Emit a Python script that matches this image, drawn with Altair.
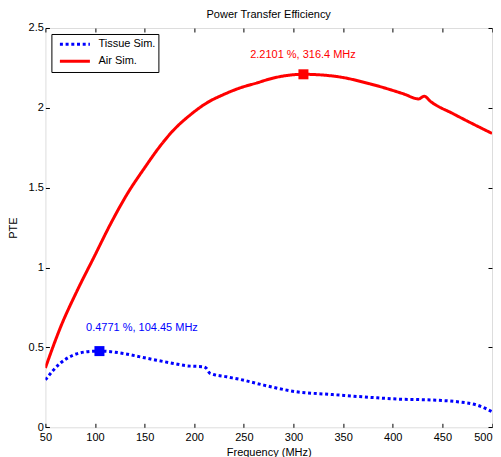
import altair as alt
import pandas as pd

# ---- data ----
series_names = ["Tissue Sim.", "Air Sim."]
series_colors = ["#0000ff", "#ff0000"]

air_freq = [50, 65.4, 82.2, 99, 115.8, 132.6, 150, 165.5, 179, 195.8, 212.6, 229.4,
            246.2, 263, 279.8, 310, 343.7, 377.3, 410.9, 426.1, 431.8, 437.9, 461.1, 500]
air_pte = [0.372, 0.629, 0.858, 1.066, 1.275, 1.4625, 1.625, 1.76, 1.86, 1.955, 2.031,
           2.083, 2.125, 2.156, 2.187, 2.2101, 2.196, 2.15, 2.0875, 2.056, 2.073, 2.041,
           1.9625, 1.84]

tissue_freq = [50, 64.7, 78, 91, 104.45, 128.5, 145.4, 162, 179, 192.4, 209, 212, 216,
               232.7, 246, 270, 303, 337, 377, 404, 438, 465, 485, 500]
tissue_pte = [0.297, 0.40, 0.452, 0.4725, 0.4771, 0.4625, 0.441, 0.42, 0.40, 0.385, 0.379,
              0.37, 0.3375, 0.316, 0.30, 0.264, 0.2225, 0.206, 0.1875, 0.177, 0.171,
              0.16, 0.139, 0.098]

peak_series = ["Tissue Sim.", "Air Sim."]
peak_freq = [104.45, 310]
peak_pte = [0.4771, 2.2101]
peak_text = ["0.4771 %, 104.45 MHz", "2.2101 %, 316.4 MHz"]
text_freq = [91, 256.3]
text_pte = [0.619, 2.333]

x_ticks = [50, 100, 150, 200, 250, 300, 350, 400, 450, 500]
y_ticks = [0, 0.5, 1, 1.5, 2, 2.5]

chart_title = "Power Transfer Efficiency"

FONT = "Liberation Sans"
W, H = 446.6, 399.3

lines_df = pd.concat([
    pd.DataFrame({"freq": tissue_freq, "pte": tissue_pte, "series": series_names[0]}),
    pd.DataFrame({"freq": air_freq, "pte": air_pte, "series": series_names[1]}),
], ignore_index=True)
lines_df["order"] = range(len(lines_df))

peaks_df = pd.DataFrame({"series": peak_series, "freq": peak_freq, "pte": peak_pte,
                         "label": peak_text, "tx": text_freq, "ty": text_pte})

xs = alt.Scale(domain=[50, 500], nice=False, zero=False)
ys = alt.Scale(domain=[0, 2.5], nice=False, zero=False)
color_scale = alt.Scale(domain=series_names, range=series_colors)
dash_scale = alt.Scale(domain=series_names, range=[[3, 2.7], [1, 0]])

TS = 4
axis_common = dict(domain=False, ticks=True, tickSize=TS, offset=-TS, grid=False,
                   tickColor="black", tickWidth=1, labelFont=FONT, labelFontSize=11,
                   labelColor="black", titleFont=FONT, titleFontSize=11,
                   titleFontWeight="normal", titleColor="black")

bottom_axis = alt.Axis(orient="bottom", values=x_ticks, labelPadding=4,
                       labelAlign={"condition": {"test": "datum.value >= 500",
                                                 "value": "right"},
                                   "value": "center"},
                       title="Frequency (MHz)", titleY=32, titleBaseline="alphabetic",
                       **axis_common)
left_axis = alt.Axis(orient="left", values=y_ticks, format="~g", labelPadding=2,
                     title="PTE", titleX=-36, titleBaseline="middle", **axis_common)
top_axis = alt.Axis(orient="top", values=x_ticks, labels=False, title=None, **axis_common)
right_axis = alt.Axis(orient="right", values=y_ticks, labels=False, title=None, **axis_common)

legend = alt.Legend(orient="top-left", offset=6, padding=2, strokeColor="black",
                    fillColor="white", symbolType="stroke", symbolSize=900,
                    symbolStrokeWidth=3, clipHeight=16.7, labelFont=FONT,
                    labelFontSize=11, labelColor="black", symbolOffset=5, labelOffset=7,
                    title=None, rowPadding=0)

lines = alt.Chart(lines_df).mark_line(strokeWidth=3, interpolate="monotone", clip=True).encode(
    x=alt.X("freq:Q", scale=xs, axis=bottom_axis),
    y=alt.Y("pte:Q", scale=ys, axis=left_axis),
    color=alt.Color("series:N", scale=color_scale, legend=legend, sort=series_names),
    strokeDash=alt.StrokeDash("series:N", scale=dash_scale, legend=legend, sort=series_names),
    detail="series:N",
    order="order:Q",
)

markers = alt.Chart(peaks_df).mark_square(size=100, opacity=1, filled=True).encode(
    x=alt.X("freq:Q", scale=xs, axis=None),
    y=alt.Y("pte:Q", scale=ys, axis=None),
    color=alt.Color("series:N", scale=color_scale, legend=None),
)

texts = alt.Chart(peaks_df).mark_text(align="left", baseline="middle", font=FONT,
                                      fontSize=11).encode(
    x=alt.X("tx:Q", scale=xs, axis=None),
    y=alt.Y("ty:Q", scale=ys, axis=None),
    text="label:N",
    color=alt.Color("series:N", scale=color_scale, legend=None),
)

title_mark = alt.Chart(pd.DataFrame({"t": [chart_title]})).mark_text(
    align="center", baseline="middle", font=FONT, fontSize=11, color="black"
).encode(x=alt.value(W / 2), y=alt.value(-13), text="t:N")

frame_axes = alt.Chart(lines_df).mark_point(opacity=0).encode(
    x=alt.X("freq:Q", scale=xs, axis=top_axis),
    y=alt.Y("pte:Q", scale=ys, axis=right_axis),
)

chart = alt.layer(lines, markers, texts, title_mark, frame_axes).resolve_axis(
    x="independent", y="independent"
).properties(
    width=W,
    height=H,
    autosize=alt.AutoSizeParams(type="none"),
    padding={"left": 37.4, "top": 20, "right": 1, "bottom": 31},
).configure_view(
    stroke="black", strokeWidth=1
).configure(background="white")

chart.save("out.html", embed_options={"renderer": "svg", "actions": False})
